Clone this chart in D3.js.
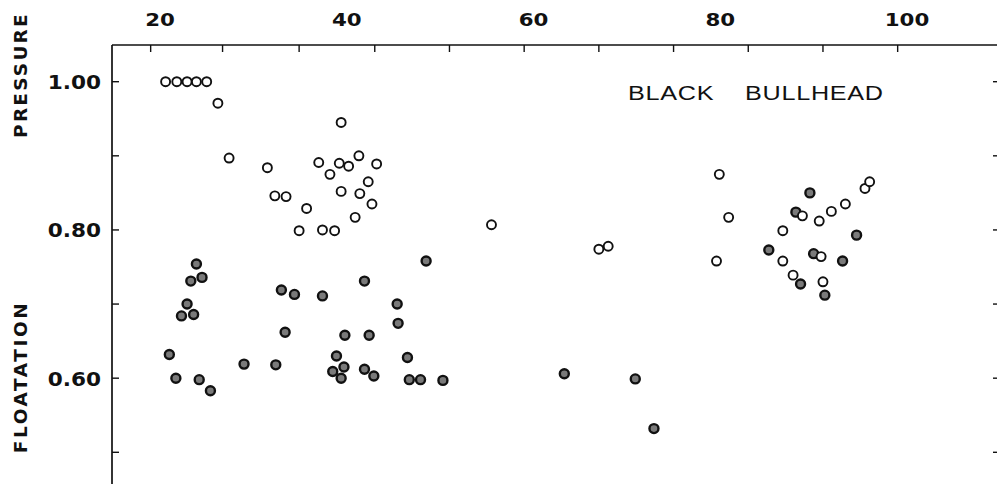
<!DOCTYPE html>
<html>
<head>
<meta charset="utf-8">
<script src="https://cdn.jsdelivr.net/npm/d3@7"></script>
<style>
  body { margin: 0; background: #fff; }
  svg { display: block; }
  text { font-family: "DejaVu Sans", "Liberation Sans", sans-serif; fill: #111; }
</style>
</head>
<body>
<div id="chart"></div>
<script>
const width = 997;
const height = 484;

// pressure (open circles): length, value
const pressureX = [20.6, 21.8, 22.9, 23.9, 25.0, 26.2, 27.4, 31.5, 32.3, 33.5, 35.7, 34.9, 37.4, 38.7,
    39.4, 37.0, 38.2, 39.2, 40.2, 41.3, 43.2, 42.3, 39.4, 41.4, 42.7, 40.9, 55.5,
    67.0, 68.0, 79.9, 80.9, 86.7, 88.8, 90.6, 91.9, 93.4, 95.5, 96.0,
    79.6, 86.7, 87.8, 90.8, 91.0];
const pressureY = [1.00, 1.00, 1.00, 1.00, 1.00, 0.971, 0.897, 0.884, 0.846, 0.845, 0.829, 0.799, 0.800, 0.799,
    0.945, 0.891, 0.875, 0.890, 0.886, 0.900, 0.889, 0.865, 0.852, 0.849, 0.835, 0.817, 0.807,
    0.774, 0.778, 0.875, 0.817, 0.799, 0.819, 0.812, 0.825, 0.835, 0.856, 0.865,
    0.758, 0.758, 0.739, 0.764, 0.730];

// floatation (filled circles): length, value
const floatX = [23.9, 23.3, 24.5, 22.9, 22.3, 23.6, 21.0, 21.7, 24.2, 25.4, 29.0, 32.4, 33.0, 34.4,
    33.4, 37.4, 41.9, 48.5, 45.4, 45.5, 39.8, 42.4, 38.9, 38.5, 39.7, 39.4, 41.9, 42.9,
    46.5, 46.7, 47.9, 50.3, 63.3, 70.9, 72.9,
    89.6, 88.1, 94.6, 85.2, 88.6, 90.0, 93.1, 91.2];
const floatY = [0.754, 0.731, 0.736, 0.700, 0.684, 0.686, 0.632, 0.600, 0.598, 0.583, 0.619, 0.618, 0.719, 0.713,
    0.662, 0.711, 0.731, 0.758, 0.700, 0.674, 0.658, 0.658, 0.630, 0.609, 0.615, 0.600, 0.612, 0.603,
    0.628, 0.598, 0.598, 0.597, 0.606, 0.599, 0.532,
    0.850, 0.824, 0.793, 0.773, 0.727, 0.768, 0.758, 0.712];

const xLabels = [20, 40, 60, 80, 100];
const xTicks = [19, 26.7, 34.9, 43, 51, 59, 67, 75, 83, 91, 99];
const yLabels = [1.00, 0.80, 0.60];
const yTicks = [1.00, 0.90, 0.80, 0.70, 0.60, 0.50];

const frameLeft = 112, frameRight = 997, frameTop = 45;

const x = d3.scaleLinear().domain([20, 100]).range([160, 907]);
const y = d3.scaleLinear().domain([1.00, 0.50]).range([81.7, 452.3]);

const svg = d3.select("#chart").append("svg")
    .attr("width", width)
    .attr("height", height);

// frame lines
svg.append("line")
    .attr("x1", frameLeft).attr("x2", frameRight)
    .attr("y1", frameTop).attr("y2", frameTop)
    .attr("stroke", "#111").attr("stroke-width", 1.7);
svg.append("line")
    .attr("x1", frameLeft).attr("x2", frameLeft)
    .attr("y1", frameTop).attr("y2", height)
    .attr("stroke", "#111").attr("stroke-width", 1.7);

// top ticks
svg.append("g").selectAll("line")
    .data(xTicks)
    .enter().append("line")
    .attr("x1", d => x(d)).attr("x2", d => x(d))
    .attr("y1", frameTop).attr("y2", frameTop + 7)
    .attr("stroke", "#111").attr("stroke-width", 1.4);

// wide bold numerals, stretched a bit like the original type
svg.append("g").selectAll("text")
    .data(xLabels)
    .enter().append("text")
    .attr("transform", d => `translate(${x(d)},26) scale(1.22,1)`)
    .attr("text-anchor", "middle")
    .style("font-weight", "bold")
    .style("font-size", "17.5px")
    .text(d => d);

// left and right ticks
svg.append("g").selectAll("line")
    .data(yTicks)
    .enter().append("line")
    .attr("x1", frameLeft).attr("x2", frameLeft + 7)
    .attr("y1", d => y(d)).attr("y2", d => y(d))
    .attr("stroke", "#111").attr("stroke-width", 1.4);

svg.append("g").selectAll("line")
    .data(yTicks)
    .enter().append("line")
    .attr("x1", frameRight - 4).attr("x2", frameRight)
    .attr("y1", d => y(d)).attr("y2", d => y(d))
    .attr("stroke", "#111").attr("stroke-width", 1.4);

svg.append("g").selectAll("text")
    .data(yLabels)
    .enter().append("text")
    .attr("transform", d => `translate(101,${y(d) + 7.5}) scale(1.08,1)`)
    .attr("text-anchor", "end")
    .style("font-weight", "bold")
    .style("font-size", "20px")
    .text(d => d3.format(".2f")(d));

// axis titles
svg.append("text")
    .attr("transform", "translate(27,75) rotate(-90)")
    .attr("text-anchor", "middle")
    .style("font-weight", "bold")
    .style("font-size", "18.5px")
    .style("letter-spacing", "2.2px")
    .text("PRESSURE");

svg.append("text")
    .attr("transform", "translate(27,377) rotate(-90)")
    .attr("text-anchor", "middle")
    .style("font-weight", "bold")
    .style("font-size", "18.5px")
    .style("letter-spacing", "2.6px")
    .text("FLOATATION");

// species label
const labelWords = [["BLACK", 628], ["BULLHEAD", 745]];
svg.append("g").selectAll("text")
    .data(labelWords)
    .enter().append("text")
    .attr("transform", d => `translate(${d[1]},99.5) scale(1.2,1)`)
    .style("font-size", "21px")
    .style("font-family", "'Liberation Sans', Arial, sans-serif")
    .style("letter-spacing", "0.6px")
    .text(d => d[0]);

// points
svg.append("g").selectAll("circle")
    .data(floatX.map((v, i) => [v, floatY[i]]))
    .enter().append("circle")
    .attr("cx", d => x(d[0]))
    .attr("cy", d => y(d[1]))
    .attr("r", 4.5)
    .attr("fill", "#7a7a7a")
    .attr("stroke", "#111")
    .attr("stroke-width", 2.4);

svg.append("g").selectAll("circle")
    .data(pressureX.map((v, i) => [v, pressureY[i]]))
    .enter().append("circle")
    .attr("cx", d => x(d[0]))
    .attr("cy", d => y(d[1]))
    .attr("r", 4.5)
    .attr("fill", "#fff")
    .attr("stroke", "#111")
    .attr("stroke-width", 1.9);
</script>
</body>
</html>
